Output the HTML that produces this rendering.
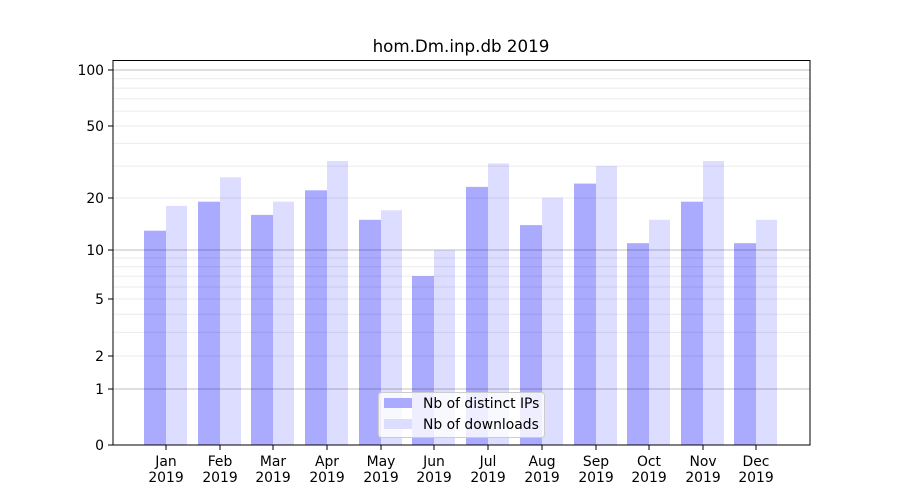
<!DOCTYPE html>
<html><head><meta charset="utf-8"><style>
html,body{margin:0;padding:0;background:#fff;}
svg{display:block;font-family:"DejaVu Sans","Liberation Sans",sans-serif;}
</style></head><body>
<svg width="900" height="500" viewBox="0 0 900 500" xmlns="http://www.w3.org/2000/svg">
<rect width="900" height="500" fill="#fff"/>
<text x="461" y="52" font-size="16.7" text-anchor="middle" fill="#000">hom.Dm.inp.db 2019</text>
<g id="bars">
<rect x="144" y="230.7" width="22" height="214.3" fill="#aaaaff"/><rect x="166" y="205.9" width="21" height="239.1" fill="#ddddff"/>
<rect x="198" y="201.7" width="22" height="243.3" fill="#aaaaff"/><rect x="220" y="177.3" width="21" height="267.7" fill="#ddddff"/>
<rect x="251" y="214.9" width="22" height="230.1" fill="#aaaaff"/><rect x="273" y="201.7" width="21" height="243.3" fill="#ddddff"/>
<rect x="305" y="190.3" width="22" height="254.7" fill="#aaaaff"/><rect x="327" y="161" width="21" height="284" fill="#ddddff"/>
<rect x="359" y="219.8" width="22" height="225.2" fill="#aaaaff"/><rect x="381" y="210.3" width="21" height="234.7" fill="#ddddff"/>
<rect x="412" y="276.1" width="22" height="168.9" fill="#aaaaff"/><rect x="434" y="250.3" width="21" height="194.7" fill="#ddddff"/>
<rect x="466" y="186.9" width="22" height="258.1" fill="#aaaaff"/><rect x="488" y="163.5" width="21" height="281.5" fill="#ddddff"/>
<rect x="520" y="225.1" width="22" height="219.9" fill="#aaaaff"/><rect x="542" y="197.7" width="21" height="247.3" fill="#ddddff"/>
<rect x="574" y="183.6" width="22" height="261.4" fill="#aaaaff"/><rect x="596" y="166.1" width="21" height="278.9" fill="#ddddff"/>
<rect x="627" y="243.2" width="22" height="201.8" fill="#aaaaff"/><rect x="649" y="219.8" width="21" height="225.2" fill="#ddddff"/>
<rect x="681" y="201.7" width="22" height="243.3" fill="#aaaaff"/><rect x="703" y="161" width="21" height="284" fill="#ddddff"/>
<rect x="734" y="243.2" width="22" height="201.8" fill="#aaaaff"/><rect x="756" y="219.8" width="21" height="225.2" fill="#ddddff"/>
</g>
<g stroke="#000" stroke-opacity="0.08" stroke-width="1">
<line x1="113" x2="810" y1="356" y2="356"/><line x1="113" x2="810" y1="332.4" y2="332.4"/><line x1="113" x2="810" y1="314.3" y2="314.3"/>
<line x1="113" x2="810" y1="299" y2="299"/><line x1="113" x2="810" y1="287" y2="287"/><line x1="113" x2="810" y1="276.1" y2="276.1"/>
<line x1="113" x2="810" y1="266.6" y2="266.6"/><line x1="113" x2="810" y1="258" y2="258"/>
<line x1="113" x2="810" y1="198" y2="198"/><line x1="113" x2="810" y1="166.1" y2="166.1"/><line x1="113" x2="810" y1="143.4" y2="143.4"/>
<line x1="113" x2="810" y1="126" y2="126"/><line x1="113" x2="810" y1="111.1" y2="111.1"/><line x1="113" x2="810" y1="98.8" y2="98.8"/>
<line x1="113" x2="810" y1="88.1" y2="88.1"/><line x1="113" x2="810" y1="78.7" y2="78.7"/>
</g>
<g stroke="#000" stroke-opacity="0.25" stroke-width="1">
<line x1="113" x2="810" y1="389" y2="389"/><line x1="113" x2="810" y1="250" y2="250"/><line x1="113" x2="810" y1="70" y2="70"/>
</g>
<rect x="113" y="60.5" width="697" height="384.5" fill="none" stroke="#000" stroke-width="1"/>
<g stroke="#000" stroke-width="1">
<line x1="108" x2="113" y1="445" y2="445"/><line x1="108" x2="113" y1="389" y2="389"/><line x1="108" x2="113" y1="356" y2="356"/>
<line x1="108" x2="113" y1="299" y2="299"/><line x1="108" x2="113" y1="250" y2="250"/><line x1="108" x2="113" y1="198" y2="198"/>
<line x1="108" x2="113" y1="126" y2="126"/><line x1="108" x2="113" y1="70" y2="70"/>
</g>
<g font-size="13.9" text-anchor="end" fill="#000">
<text x="104" y="450">0</text><text x="104" y="394">1</text><text x="104" y="361">2</text><text x="104" y="304">5</text>
<text x="104" y="255">10</text><text x="104" y="203">20</text><text x="104" y="131">50</text><text x="104" y="75">100</text>
</g>
<g stroke="#000" stroke-width="1">
<line x1="166" x2="166" y1="445" y2="450"/><line x1="220" x2="220" y1="445" y2="450"/><line x1="273" x2="273" y1="445" y2="450"/>
<line x1="327" x2="327" y1="445" y2="450"/><line x1="381" x2="381" y1="445" y2="450"/><line x1="434" x2="434" y1="445" y2="450"/>
<line x1="488" x2="488" y1="445" y2="450"/><line x1="542" x2="542" y1="445" y2="450"/><line x1="596" x2="596" y1="445" y2="450"/>
<line x1="649" x2="649" y1="445" y2="450"/><line x1="703" x2="703" y1="445" y2="450"/><line x1="756" x2="756" y1="445" y2="450"/>
</g>
<g font-size="13.9" text-anchor="middle" fill="#000">
<text x="166" y="466">Jan</text><text x="220" y="466">Feb</text><text x="273" y="466">Mar</text><text x="327" y="466">Apr</text>
<text x="381" y="466">May</text><text x="434" y="466">Jun</text><text x="488" y="466">Jul</text><text x="542" y="466">Aug</text>
<text x="596" y="466">Sep</text><text x="649" y="466">Oct</text><text x="703" y="466">Nov</text><text x="756" y="466">Dec</text>
<text x="166" y="482">2019</text><text x="220" y="482">2019</text><text x="273" y="482">2019</text><text x="327" y="482">2019</text>
<text x="381" y="482">2019</text><text x="434" y="482">2019</text><text x="488" y="482">2019</text><text x="542" y="482">2019</text>
<text x="596" y="482">2019</text><text x="649" y="482">2019</text><text x="703" y="482">2019</text><text x="756" y="482">2019</text>
</g>
<rect x="378.5" y="392.5" width="166" height="45" rx="3" fill="#fff" fill-opacity="0.8" stroke="#ccc"/>
<rect x="384" y="398" width="28" height="10" fill="#aaaaff"/>
<rect x="384" y="419" width="28" height="10" fill="#ddddff"/>
<g font-size="13.9" fill="#000">
<text x="423" y="408">Nb of distinct IPs</text>
<text x="423" y="429">Nb of downloads</text>
</g>
</svg>
</body></html>
